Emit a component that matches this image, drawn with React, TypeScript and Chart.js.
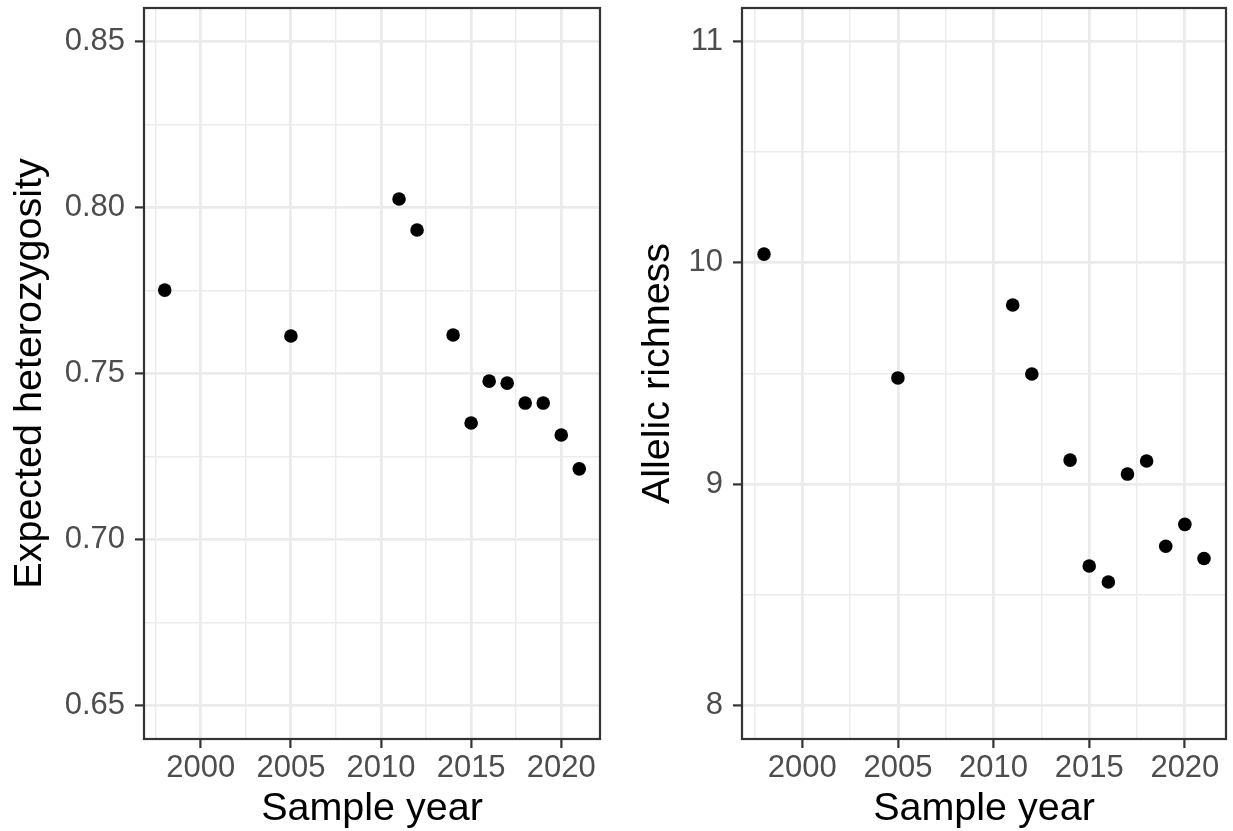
import React, { useEffect, useRef } from 'react';
import { Chart, registerables } from 'chart.js';

Chart.register(...registerables);

const years = [1998, 2005, 2011, 2012, 2014, 2015, 2016, 2017, 2018, 2019, 2020, 2021];
const heterozygosity = [0.7751, 0.7613, 0.8025, 0.7932, 0.7616, 0.7351, 0.7477, 0.7471, 0.7411, 0.7411, 0.7315, 0.7213];
const allelicRichness = [10.039, 9.48, 9.809, 9.498, 9.109, 8.631, 8.559, 9.046, 9.105, 8.72, 8.819, 8.665];

const xMajorTicks = [2000, 2005, 2010, 2015, 2020];
const xMinorTicks = [1997.5, 2002.5, 2007.5, 2012.5, 2017.5];
const hetMajorTicks = [0.65, 0.7, 0.75, 0.8, 0.85];
const hetMinorTicks = [0.675, 0.725, 0.775, 0.825];
const arMajorTicks = [8, 9, 10, 11];
const arMinorTicks = [8.5, 9.5, 10.5];

const xLabel = 'Sample year';
const hetLabel = 'Expected heterozygosity';
const arLabel = 'Allelic richness';

const FONT = "'Liberation Sans', Arial, sans-serif";
const TICK_SIZE = 31;
const TITLE_SIZE = 39.5;

const isIn = (list: number[], v: number) => list.some((m) => Math.abs(m - v) < 1e-9);

const panelBorder = {
  id: 'panelBorder',
  afterDraw(chart: any) {
    const { ctx, chartArea } = chart;
    const { left, top, right, bottom } = chartArea;
    ctx.save();
    ctx.strokeStyle = '#333333';
    ctx.lineWidth = 2.2;
    ctx.strokeRect(left, top, right - left, bottom - top);
    ctx.restore();
  },
};

function makeConfig(opts: {
  yValues: number[];
  yMajor: number[];
  yMinor: number[];
  yMin: number;
  yMax: number;
  yDecimals: number;
  yTitle: string;
  yAxisWidth: number;
  yTitlePad: number;
  rightPad: number;
}): any {
  const data = years.map((x, i) => ({ x, y: opts.yValues[i] }));
  const xAll = [...xMinorTicks, ...xMajorTicks].sort((a, b) => a - b);
  const yAll = [...opts.yMinor, ...opts.yMajor].sort((a, b) => a - b);
  return {
    type: 'scatter',
    data: {
      datasets: [
        {
          data,
          backgroundColor: '#000000',
          borderWidth: 0,
          pointRadius: 6.8,
          pointHoverRadius: 6.8,
        },
      ],
    },
    options: {
      responsive: false,
      animation: false,
      events: [],
      layout: {
        autoPadding: false,
        padding: { top: 8, right: opts.rightPad, bottom: 0, left: 0 },
      },
      plugins: {
        legend: { display: false },
        tooltip: { enabled: false },
      },
      scales: {
        x: {
          type: 'linear',
          position: 'bottom',
          min: 1996.85,
          max: 2022.15,
          afterBuildTicks: (scale: any) => {
            scale.ticks = xAll.map((v) => ({ value: v }));
          },
          afterFit: (scale: any) => {
            scale.height = 92;
            scale.paddingLeft = 0;
            scale.paddingRight = 0;
          },
          border: { display: false },
          grid: {
            color: '#EBEBEB',
            lineWidth: (c: any) => (c.tick && isIn(xMajorTicks, c.tick.value) ? 2.8 : 1.4),
            tickColor: (c: any) => (c.tick && isIn(xMajorTicks, c.tick.value) ? '#333333' : 'rgba(0,0,0,0)'),
            tickWidth: 2.2,
            tickLength: 9,
          },
          ticks: {
            autoSkip: false,
            maxRotation: 0,
            minRotation: 0,
            padding: 1.7,
            color: '#4D4D4D',
            font: { family: FONT, size: TICK_SIZE },
            callback: (v: any) => (isIn(xMajorTicks, v) ? String(v) : ''),
          },
          title: {
            display: true,
            text: xLabel,
            color: '#000000',
            font: { family: FONT, size: TITLE_SIZE, lineHeight: 1.1 },
            padding: { top: 0, bottom: 0 },
          },
        },
        y: {
          type: 'linear',
          position: 'left',
          min: opts.yMin,
          max: opts.yMax,
          afterBuildTicks: (scale: any) => {
            scale.ticks = yAll.map((v) => ({ value: v }));
          },
          afterFit: (scale: any) => {
            scale.width = opts.yAxisWidth;
            scale.paddingTop = 0;
            scale.paddingBottom = 0;
          },
          border: { display: false },
          grid: {
            color: '#EBEBEB',
            lineWidth: (c: any) => (c.tick && isIn(opts.yMajor, c.tick.value) ? 2.8 : 1.4),
            tickColor: (c: any) => (c.tick && isIn(opts.yMajor, c.tick.value) ? '#333333' : 'rgba(0,0,0,0)'),
            tickWidth: 2.2,
            tickLength: 9,
          },
          ticks: {
            autoSkip: false,
            padding: 10,
            color: '#4D4D4D',
            font: { family: FONT, size: TICK_SIZE },
            callback: (v: any) => (isIn(opts.yMajor, v) ? Number(v).toFixed(opts.yDecimals) : ''),
          },
          title: {
            display: true,
            text: opts.yTitle,
            color: '#000000',
            font: { family: FONT, size: TITLE_SIZE, lineHeight: 1.12 },
            padding: { top: opts.yTitlePad, bottom: 0 },
          },
        },
      },
    },
    plugins: [panelBorder],
  };
}

function Panel(props: { left: number; width: number; config: any }) {
  const ref = useRef<HTMLCanvasElement | null>(null);
  useEffect(() => {
    if (!ref.current) return;
    const chart = new Chart(ref.current, props.config);
    return () => chart.destroy();
  }, []);
  return (
    <canvas
      ref={ref}
      width={props.width}
      height={831}
      style={{ position: 'absolute', left: props.left, top: 0, width: props.width, height: 831 }}
    />
  );
}

export default function App() {
  const hetConfig = makeConfig({
    yValues: heterozygosity,
    yMajor: hetMajorTicks,
    yMinor: hetMinorTicks,
    yMin: 0.64,
    yMax: 0.86,
    yDecimals: 2,
    yTitle: hetLabel,
    yAxisWidth: 144,
    yTitlePad: 7.5,
    rightPad: 16,
  });
  const arConfig = makeConfig({
    yValues: allelicRichness,
    yMajor: arMajorTicks,
    yMinor: arMinorTicks,
    yMin: 7.85,
    yMax: 11.15,
    yDecimals: 0,
    yTitle: arLabel,
    yAxisWidth: 126,
    yTitlePad: 19.9,
    rightPad: 7,
  });
  return (
    <div
      style={{
        position: 'fixed',
        left: 0,
        top: 0,
        width: 1233,
        height: 831,
        background: '#ffffff',
        overflow: 'hidden',
      }}
    >
      <Panel left={0} width={616} config={hetConfig} />
      <Panel left={616} width={617} config={arConfig} />
    </div>
  );
}
